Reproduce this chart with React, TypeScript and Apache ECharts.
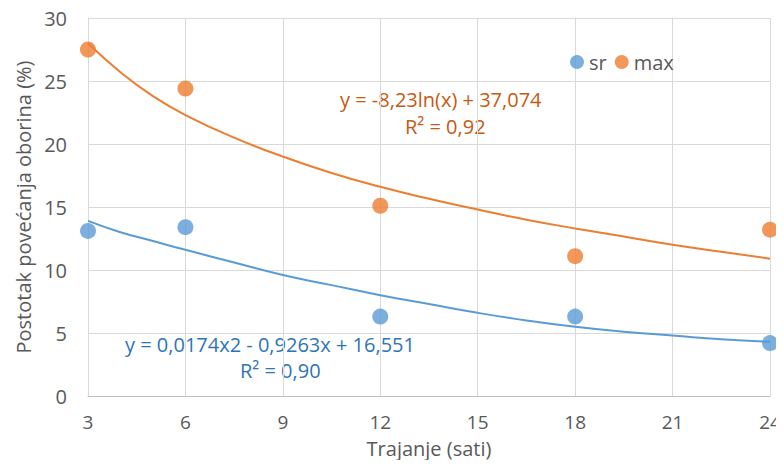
import React, { useEffect, useRef } from "react";
import * as echarts from "echarts";

const xTicks = [3, 6, 9, 12, 15, 18, 21, 24];
const srX = [3, 6, 12, 18, 24];
const srY = [13.1, 13.4, 6.3, 6.3, 4.2];
const maxX = [3, 6, 12, 18, 24];
const maxY = [27.5, 24.4, 15.1, 11.1, 13.2];

// trend curves
const trendX = [3, 4, 5, 6, 7.5, 9, 10.5, 12, 13.5, 15, 16.5, 18, 19.5, 21, 22.5, 24];
const trendMax = [28.0, 25.7, 23.8, 22.3, 20.5, 19.0, 17.7, 16.6, 15.65, 14.8, 13.99, 13.3, 12.65, 12.0, 11.45, 10.9];
const trendSr = [13.9, 13.0, 12.3, 11.6, 10.6, 9.6, 8.8, 8.0, 7.3, 6.6, 6.0, 5.5, 5.1, 4.8, 4.5, 4.3];

const eqMax = "y = -8,23ln(x) + 37,074";
const r2Max = "R² = 0,92";
const eqSr = "y = 0,0174x2 - 0,9263x + 16,551";
const r2Sr = "R² = 0,90";

const BLUE = "#5B9BD5";
const ORANGE = "#ED7D31";
const FONT = "'Open Sans', 'Noto Sans', sans-serif";
const FS = 20;

export default function App() {
  const ref = useRef<HTMLDivElement>(null);
  useEffect(() => {
    if (!ref.current) return;
    const chart = echarts.init(ref.current, null, { renderer: "svg" });
    const pair = (xs: number[], ys: number[]) => xs.map((x, i) => [x, ys[i]]);
    chart.setOption({
      animation: false,
      textStyle: { fontFamily: FONT },
      grid: { left: 88, right: 14, top: 18, bottom: 72 },
      legend: {
        data: ["sr", "max"],
        left: 565,
        top: 47,
        itemWidth: 14,
        itemHeight: 14,
        itemGap: 8,
        textStyle: { color: "#595959", fontSize: FS, fontFamily: FONT },
        icon: "circle",
      },
      xAxis: {
        type: "value",
        min: 3,
        max: 24,
        interval: 3,
        name: "Trajanje (sati)",
        nameLocation: "middle",
        nameGap: 42,
        nameTextStyle: { color: "#595959", fontSize: FS, fontFamily: FONT },
        axisLine: { show: true, lineStyle: { color: "#BFBFBF", width: 1 } },
        axisTick: { show: false },
        axisLabel: { color: "#595959", fontSize: 19, margin: 16, fontFamily: FONT },
        splitLine: { show: true, lineStyle: { color: "#D9D9D9", width: 1 } },
      },
      yAxis: {
        type: "value",
        min: 0,
        max: 30,
        interval: 5,
        name: "Postotak povećanja oborina (%)",
        nameLocation: "middle",
        nameGap: 50,
        nameTextStyle: { color: "#595959", fontSize: FS, fontFamily: FONT },
        axisLine: { show: false },
        axisTick: { show: false },
        axisLabel: { color: "#595959", fontSize: FS, margin: 21, fontFamily: FONT },
        splitLine: { show: true, lineStyle: { color: "#D9D9D9", width: 1 } },
      },
      series: [
        {
          name: "trend max",
          type: "line",
          data: pair(trendX, trendMax),
          smooth: true,
          showSymbol: false,
          lineStyle: { color: ORANGE, width: 2 },
          itemStyle: { color: ORANGE },
          z: 2,
        },
        {
          name: "trend sr",
          type: "line",
          data: pair(trendX, trendSr),
          smooth: true,
          showSymbol: false,
          lineStyle: { color: BLUE, width: 2 },
          itemStyle: { color: BLUE },
          z: 2,
        },
        {
          name: "sr",
          type: "scatter",
          data: pair(srX, srY),
          symbolSize: 16,
          itemStyle: { color: BLUE },
          z: 3,
        },
        {
          name: "max",
          type: "scatter",
          data: pair(maxX, maxY),
          symbolSize: 16,
          itemStyle: { color: ORANGE },
          z: 3,
        },
      ],
      graphic: [
        { type: "text", left: 340, top: 89, style: { text: eqMax, fill: "#C55A11", font: `${FS}px ${FONT}` } },
        { type: "text", left: 405, top: 116, style: { text: r2Max, fill: "#C55A11", font: `${FS}px ${FONT}` } },
        { type: "text", left: 125, top: 334, style: { text: eqSr, fill: "#2E75B6", font: `${FS}px ${FONT}` } },
        { type: "text", left: 240, top: 360, style: { text: r2Sr, fill: "#2E75B6", font: `${FS}px ${FONT}` } },
      ],
    });
    return () => chart.dispose();
  }, []);
  return <div ref={ref} style={{ width: 784, height: 468, margin: -8 }} />;
}
